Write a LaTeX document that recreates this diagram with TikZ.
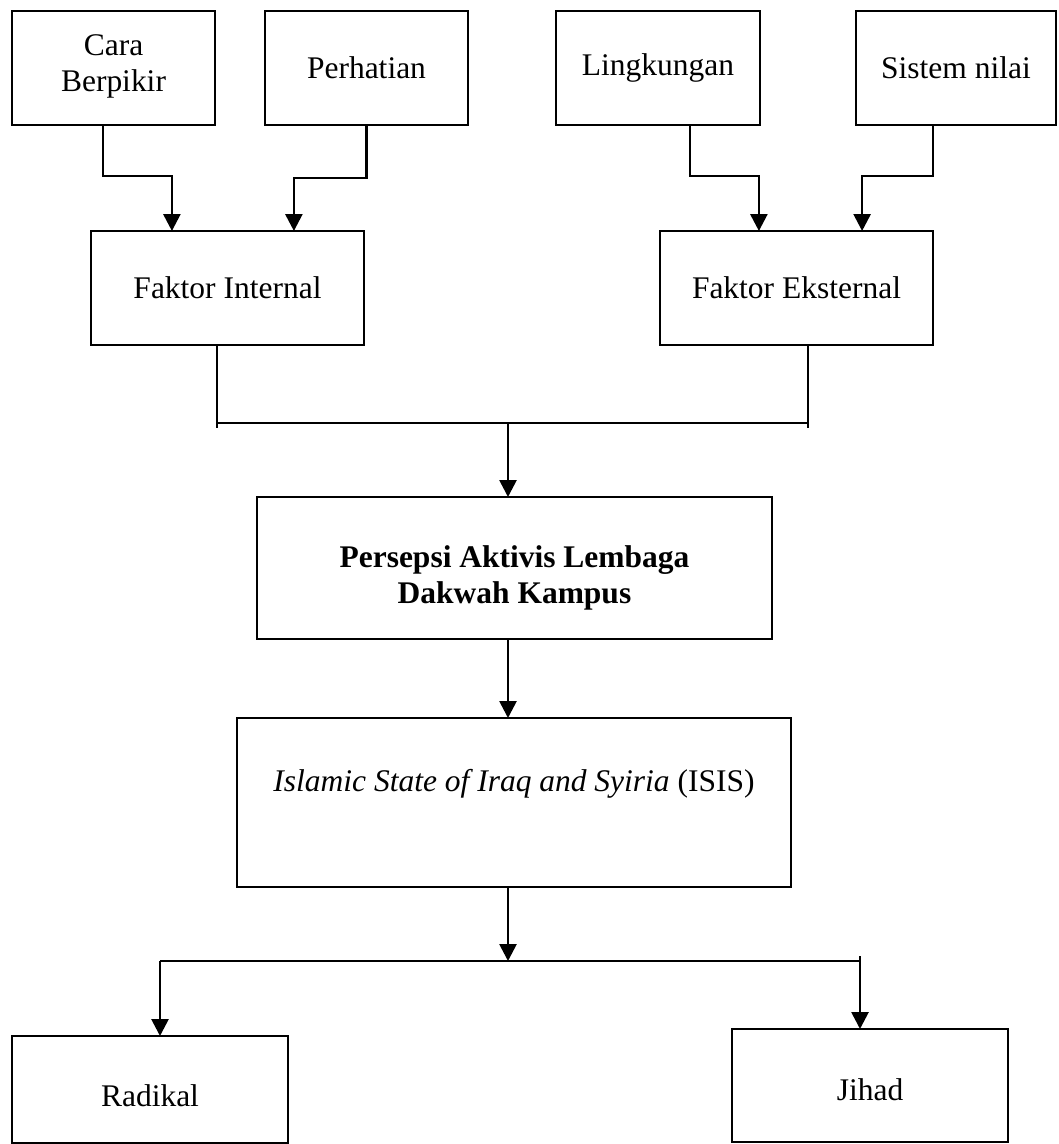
\documentclass[tikz,border=0pt]{standalone}
\usepackage{fontspec}
\setmainfont{Liberation Serif}
\usepackage{tikz}
\usetikzlibrary{arrows.meta,calc,positioning}

\begin{document}
\begin{tikzpicture}[
  box/.style={rectangle, draw, line width=1.4pt, inner sep=0pt, outer sep=0pt,
    minimum width=6.9cm, minimum height=2.85cm, align=center,
    font=\fontsize{22.4}{25.5}\selectfont},
  arrow/.style={draw, line width=1.9pt, -{Triangle[width=0.42cm,length=0.42cm]}},
  joint/.style={draw, line width=1.1pt}
]
\useasboundingbox (0,0) rectangle (26.475,-28.6);

\node[box, minimum width=5.075cm] (cara) at (2.8375,-1.7) {Cara\\Berpikir\rule[-0.25cm]{0pt}{0pt}};
\node[box, minimum width=5.075cm] (perhatian) at (9.1625,-1.7) {Perhatian};
\node[box, minimum width=5.1cm] (lingkungan) at (16.45,-1.7) {Lingkungan};
\node[box, minimum width=5.0cm] (sistem) at (23.9,-1.7) {Sistem nilai};

\node[box, minimum width=6.825cm] (internal) at (5.6875,-7.2) {Faktor Internal};
\node[box, minimum width=6.825cm] (eksternal) at (19.9125,-7.2) {Faktor Eksternal};

\node[box, minimum width=12.875cm, minimum height=3.55cm] (persepsi) at (12.8625,-14.2)
  {\rule{0pt}{1.03cm}\bfseries Persepsi Aktivis Lembaga\\\bfseries Dakwah Kampus};
\node[box, minimum width=13.85cm, minimum height=4.225cm] (isis) at (12.85,-20.0625)
  {\itshape Islamic State of Iraq and Syiria \upshape(ISIS)\\[0.225cm]\mbox{}};

\node[box, minimum height=2.675cm, text height=0.88cm] (radikal) at (3.75,-27.2375) {Radikal};
\node[box, minimum height=2.825cm, text height=0.75cm] (jihad) at (21.75,-27.1375) {Jihad};

\draw[arrow] ([xshift=-0.26cm]cara.south) -- ++(0,-1.275) -| ([xshift=-1.39cm]internal.north);
\draw[arrow] (perhatian.south) -- ++(0,-1.325) -| ([xshift=1.66cm]internal.north);
\draw[arrow] ([xshift=0.8cm]lingkungan.south) -- ++(0,-1.275) -| ([xshift=-0.94cm]eksternal.north);
\draw[arrow] ([xshift=-0.575cm]sistem.south) -- ++(0,-1.275) -| ([xshift=1.64cm]eksternal.north);

\coordinate (joinA) at (12.7,-10.575);
\coordinate (fromIn) at ([xshift=-0.26cm]internal.south);
\coordinate (fromEks) at ([xshift=0.29cm]eksternal.south);
\draw[joint] (fromIn) -- ++(0,-2.075);
\draw[joint] (fromEks) -- ++(0,-2.075);
\draw[joint] (fromIn |- joinA) -- (fromEks |- joinA);
\draw[arrow] (joinA) -- (joinA |- persepsi.north);
\draw[arrow] (persepsi.south -| joinA) -- (isis.north -| joinA);

\coordinate (joinB) at (12.7,-24.025);
\coordinate (toRad) at ([xshift=0.25cm]radikal.north);
\coordinate (toJih) at ([xshift=-0.25cm]jihad.north);
\draw[arrow] (isis.south -| joinB) -- (joinB);
\draw[joint] (toRad |- joinB) -- (toJih |- joinB);
\draw[arrow] (toRad |- joinB) -- (toRad);
\draw[arrow] ($(toJih |- joinB)+(0,0.125)$) -- (toJih);
\end{tikzpicture}
\end{document}
